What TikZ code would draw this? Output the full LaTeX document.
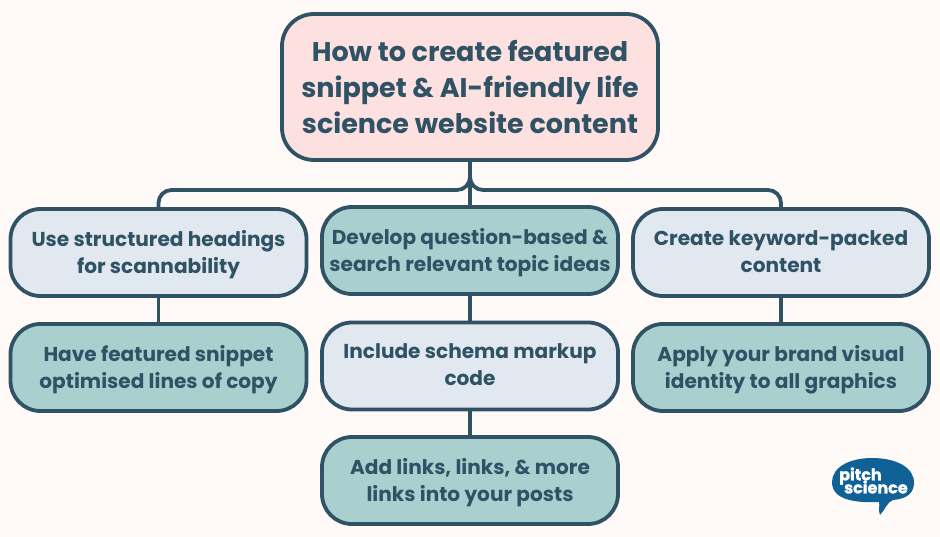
\documentclass[tikz,border=0pt]{standalone}
\usepackage{fontspec}
\setmainfont{Poppins}
\newfontfamily\logofont[UprightFont=* Bold,FakeBold=1.5]{Poppins}
\usetikzlibrary{positioning}
\definecolor{bgcream}{HTML}{FFFAF7}
\definecolor{inkblue}{HTML}{2F5265}
\definecolor{titlepink}{HTML}{FDE1E1}
\definecolor{palebox}{HTML}{E1E8EF}
\definecolor{tealbox}{HTML}{A9D0CF}
\definecolor{logoblue}{HTML}{0F6196}
\tikzset{
  card/.style={draw=inkblue,line width=3.8pt,rounded corners=30pt,align=center,text=inkblue,
    font=\fontsize{20.1}{27}\selectfont\bfseries,inner sep=0pt,minimum width=296pt,minimum height=87pt},
  level/.style={card,text depth=2pt},
  pale/.style={level,fill=palebox},
  teal/.style={level,fill=tealbox},
  link/.style={draw=inkblue,line width=3.8pt,rounded corners=13pt},
}
\begin{document}
\begin{tikzpicture}[x=1pt,y=-1pt]
 \useasboundingbox[fill=bgcream](0,0) rectangle (940,537);
 % top box
 \node[card,fill=titlepink,minimum width=376pt,minimum height=146pt,rounded corners=32pt,
   font=\fontsize{27}{36}\selectfont\bfseries] (howto) at (470,87)
   {How to create featured\\snippet \& AI-friendly life\\science website content};
 % first row
 \node[pale] (headings) at (158.5,252.5) {Use structured headings\\for scannability};
 \node[teal] (topics) at (470,250.5) {Develop question-based \&\\search relevant topic ideas};
 \node[pale] (keywords) at (781,252.5) {Create keyword-packed\\content};
 % second row
 \node[teal] (snippet) at (158.5,367.5) {Have featured snippet\\optimised lines of copy};
 \node[pale] (schema) at (470,366) {Include schema markup\\code};
 \node[teal] (visual) at (781,367.5) {Apply your brand visual\\identity to all graphics};
 % third row
 \node[teal] (links) at (470,480.5) {Add links, links, \& more\\links into your posts};
 % connectors
 \coordinate (bus) at (470,190);
 \draw[link] (howto.south) -- (bus) -| (headings.north);
 \draw[link] (howto.south) -- (bus) -| (keywords.north);
 \draw[link] (howto.south) -- (topics.north);
 \draw[link] (headings.south) -- (snippet.north);
 \draw[link] (topics.south) -- (schema.north);
 \draw[link] (schema.south) -- (links.north);
 \draw[link] (keywords.south) -- (visual.north);
 % logo
 \fill[logoblue] (832,482) .. controls (832,467) and (850,458) .. (872,458) .. controls (897,458) and (915,468) .. (914,484)
   .. controls (913,496) and (903,499) .. (893,500) .. controls (887,502) and (885,510) .. (880,515)
   .. controls (878,510) and (880,506) .. (879,502) .. controls (855,503) and (832,500) .. (832,482) -- cycle;
 \node[text=white,font=\logofont\fontsize{16}{13}\selectfont,align=left,inner sep=0pt,anchor=west] (logotext) at (839,480.5)
   {pitch\\[-5pt]\hspace*{5pt}science};
\end{tikzpicture}
\end{document}
